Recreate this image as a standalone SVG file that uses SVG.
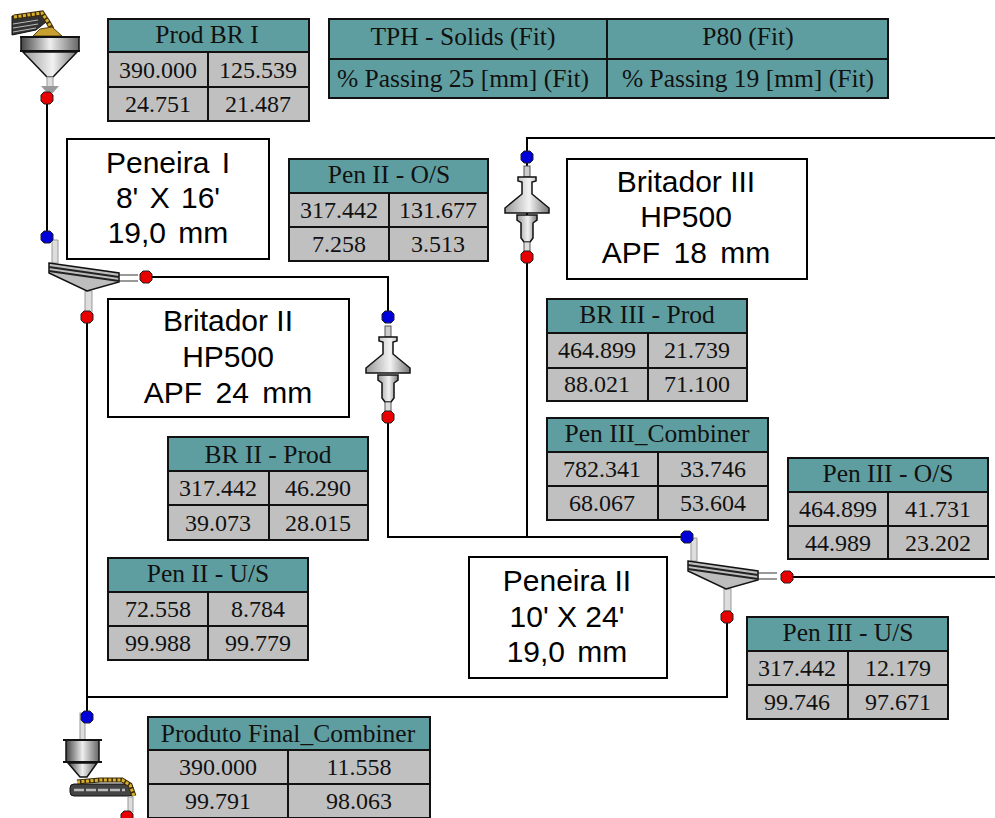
<svg xmlns="http://www.w3.org/2000/svg" width="995" height="818" viewBox="0 0 995 818">
<style>
.h{fill:#5f9ea0}.c{fill:#c0c0c0}.l{stroke:#000;stroke-width:2;fill:none}.b{fill:#fff;stroke:#000;stroke-width:2}
.g{fill:none;stroke:#111;stroke-width:2}
text{font-family:"Liberation Serif","Times New Roman",serif;font-size:24px;text-anchor:middle;fill:#111}
.t{font-size:25.5px}
.s{font-family:"Liberation Sans",Arial,sans-serif;font-size:30px;fill:#000}
</style>
<defs>
<linearGradient id="m"><stop offset="0" stop-color="#444"/><stop offset=".5" stop-color="#eee"/><stop offset="1" stop-color="#666"/></linearGradient>
<linearGradient id="k"><stop offset="0" stop-color="#999"/><stop offset=".55" stop-color="#f2f2f2"/><stop offset="1" stop-color="#777"/></linearGradient>
<g id="red"><path d="M-3-6H3L6-3V3L3 6H-3L-6 3V-3Z" fill="#e80000" stroke="#222" stroke-width="1"/></g>
<g id="blue"><path d="M-3-6H3L6-3V3L3 6H-3L-6 3V-3Z" fill="#0000d8" stroke="#222" stroke-width="1"/></g>
<g id="crusher">
<rect x="-3" y="-34" width="6" height="11" fill="#ccc" stroke="#555"/>
<path d="M-9-23H9V-19L5-18V-6L22 8V13H-22V8L-5-6V-18L-9-19Z" fill="url(#k)" stroke="#111" stroke-width="1.5"/>
<path d="M-10 15H10V20L6 23V38L3 42H-3L-6 38V23L-10 20Z" fill="url(#k)" stroke="#111" stroke-width="1.5"/>
<path d="M-3 42H3V52H-3Z" fill="#ddd" stroke="#555"/>
</g>
<g id="screen">
<path d="M3-23H9V0H3Z" fill="#ddd" stroke="#999"/>
<path d="M70 12H89M70 18H89" stroke="#999" stroke-width="2" fill="none"/>
<rect x="36" y="28" width="7" height="22" fill="#ddd" stroke="#999"/>
<path d="M0 0 70 10V19L38 28 0 10Z" fill="#bdbdbd" stroke="#111" stroke-width="1.5"/>
<path d="M0 4 70 14M0 8 70 18" stroke="#222" stroke-width="2" fill="none"/>
</g>
</defs>

<g id="connectors" class="l">
<path d="M47 100V237"/>
<path d="M146 277H388V317"/>
<path d="M388 417V537H687"/>
<path d="M87 317V717"/>
<path d="M727 617V697H87"/>
<path d="M787 577H995"/>
<path d="M527 537V138H995"/>
</g>

<g id="feeder-top">
<path d="M12 16 40 12 46 22 36 30 12 35Z" fill="#333" stroke="#111"/>
<path d="M13 24 38 20M13 28 38 24M13 32 36 28" stroke="#bbb" stroke-width="1"/>
<path d="M14 17 42 13 48 22 52 29" fill="none" stroke="#3a2a08" stroke-width="5"/>
<path d="M14 17 42 13 48 22 52 29" fill="none" stroke="#d8b030" stroke-width="3" stroke-dasharray="3 1.5"/>
<path d="M33 36 40 29 52 27 62 36Z" fill="#c8a030" stroke="#5b4010"/>
<rect x="21" y="37" width="58" height="14" fill="url(#m)" stroke="#111" stroke-width="1.5"/>
<path d="M20 37H80M20 51H80" stroke="#111" stroke-width="2"/>
<path d="M23 52H77L53 77H47Z" fill="url(#k)" stroke="#111" stroke-width="1.5"/>
<rect x="47" y="77" width="6" height="10" fill="#ddd" stroke="#999"/>
<path d="M41 86H59L50 96Z" fill="#999"/>
<use href="#red" x="47" y="98"/>
</g>

<g id="screen-1"><use href="#screen" x="49" y="263"/><use href="#blue" x="47" y="237"/><use href="#red" x="146" y="277"/><use href="#red" x="87" y="317"/></g>
<g id="screen-2"><use href="#screen" x="688" y="561"/><use href="#blue" x="687" y="537"/><use href="#red" x="787" y="577"/><use href="#red" x="727" y="617"/></g>
<g id="crusher-2"><use href="#crusher" x="388" y="360"/><use href="#blue" x="388" y="317"/><use href="#red" x="388" y="417"/></g>
<g id="crusher-3"><use href="#crusher" x="527" y="200"/><use href="#blue" x="527" y="157"/><use href="#red" x="527" y="257"/></g>

<g id="bin-bottom">
<rect x="80" y="713" width="5" height="27" fill="#ddd" stroke="#999"/>
<rect x="66" y="740" width="33" height="22" fill="url(#m)" stroke="#111" stroke-width="1.5"/>
<path d="M63 740H102M63 762H102" stroke="#111" stroke-width="2"/>
<path d="M68 763H97L87 777H80Z" fill="url(#m)" stroke="#111" stroke-width="1.5"/>
<rect x="70" y="784" width="63" height="12" rx="4" fill="#444" stroke="#111"/>
<path d="M74 790H125" stroke="#bbb" stroke-width="2.5" stroke-dasharray="10 2"/>
<path d="M77 782 100 780 122 780 130 785 134 796" fill="none" stroke="#3a2a08" stroke-width="5"/>
<path d="M77 782 100 780 122 780 130 785 134 796" fill="none" stroke="#d8b030" stroke-width="3" stroke-dasharray="3 1.5"/>
<rect x="128" y="797" width="5" height="15" fill="#ddd" stroke="#999"/>
<use href="#red" x="127" y="817"/>
<use href="#blue" x="87" y="717"/>
</g>

<g id="label-peneira-1"><rect class="b" x="67" y="139" width="202" height="120"/><text class="s" x="168" y="173" word-spacing="4">Peneira I</text><text class="s" x="168" y="208" word-spacing="3">8' X 16'</text><text class="s" x="168" y="243" word-spacing="4">19,0 mm</text></g>
<g id="label-britador-3"><rect class="b" x="567" y="159" width="240" height="120"/><text class="s" x="686" y="192">Britador III</text><text class="s" x="686" y="227">HP500</text><text class="s" x="686" y="263" word-spacing="5">APF 18 mm</text></g>
<g id="label-britador-2"><rect class="b" x="108" y="299" width="241" height="118"/><text class="s" x="228" y="331">Britador II</text><text class="s" x="228" y="367">HP500</text><text class="s" x="228" y="403" word-spacing="5">APF 24 mm</text></g>
<g id="label-peneira-2"><rect class="b" x="469" y="557" width="198" height="121"/><text class="s" x="567" y="591">Peneira II</text><text class="s" x="567" y="627">10' X 24'</text><text class="s" x="567" y="662" word-spacing="4">19,0 mm</text></g>

<g id="legend"><rect class="h" x="329" y="19" width="559" height="79"/><path class="g" d="M329 19H888V98H329ZM329 59H888M607 19V98"/>
<text class="t" x="463" y="45">TPH - Solids (Fit)</text><text class="t" x="748" y="45">P80 (Fit)</text><text class="t" x="463" y="87">% Passing 25 [mm] (Fit)</text><text class="t" x="748" y="87">% Passing 19 [mm] (Fit)</text></g>

<g id="t-prod-br-1"><rect class="h" x="108" y="19" width="201" height="33"/><rect class="c" x="108" y="52" width="201" height="69"/><path class="g" d="M108 19H309V121H108ZM108 52H309M108 87H309M208 52V121"/>
<text class="t" x="207" y="43">Prod BR I</text><text x="158" y="78">390.000</text><text x="258" y="78">125.539</text><text x="158" y="112">24.751</text><text x="258" y="112">21.487</text></g>

<g id="t-pen-2-os"><rect class="h" x="289" y="159" width="199" height="34"/><rect class="c" x="289" y="193" width="199" height="68"/><path class="g" d="M289 159H488V261H289ZM289 193H488M289 227H488M389 193V261"/>
<text class="t" x="389" y="183">Pen II - O/S</text><text x="339" y="218">317.442</text><text x="438" y="218">131.677</text><text x="339" y="252">7.258</text><text x="438" y="252">3.513</text></g>

<g id="t-br-3-prod"><rect class="h" x="547" y="299" width="200" height="34"/><rect class="c" x="547" y="333" width="200" height="68"/><path class="g" d="M547 299H747V401H547ZM547 333H747M547 368H747M648 333V401"/>
<text class="t" x="647" y="323">BR III - Prod</text><text x="597" y="358">464.899</text><text x="697" y="358">21.739</text><text x="597" y="392">88.021</text><text x="697" y="392">71.100</text></g>

<g id="t-pen-3-combiner"><rect class="h" x="547" y="418" width="221" height="34"/><rect class="c" x="547" y="452" width="221" height="68"/><path class="g" d="M547 418H768V520H547ZM547 452H768M547 486H768M658 452V520"/>
<text class="t" x="657" y="442">Pen III_Combiner</text><text x="602" y="477">782.341</text><text x="713" y="477">33.746</text><text x="602" y="511">68.067</text><text x="713" y="511">53.604</text></g>

<g id="t-pen-3-os"><rect class="h" x="788" y="458" width="200" height="34"/><rect class="c" x="788" y="492" width="200" height="67"/><path class="g" d="M788 458H988V559H788ZM788 492H988M788 526H988M888 492V559"/>
<text class="t" x="888" y="482">Pen III - O/S</text><text x="838" y="517">464.899</text><text x="938" y="517">41.731</text><text x="838" y="551">44.989</text><text x="938" y="551">23.202</text></g>

<g id="t-br-2-prod"><rect class="h" x="168" y="437" width="200" height="34"/><rect class="c" x="168" y="471" width="200" height="69"/><path class="g" d="M168 437H368V540H168ZM168 471H368M168 505H368M269 471V540"/>
<text class="t" x="268" y="463">BR II - Prod</text><text x="218" y="496">317.442</text><text x="318" y="496">46.290</text><text x="218" y="531">39.073</text><text x="318" y="531">28.015</text></g>

<g id="t-pen-2-us"><rect class="h" x="108" y="558" width="200" height="34"/><rect class="c" x="108" y="592" width="200" height="68"/><path class="g" d="M108 558H308V660H108ZM108 592H308M108 626H308M208 592V660"/>
<text class="t" x="208" y="582">Pen II - U/S</text><text x="158" y="617">72.558</text><text x="258" y="617">8.784</text><text x="158" y="651">99.988</text><text x="258" y="651">99.779</text></g>

<g id="t-pen-3-us"><rect class="h" x="747" y="617" width="201" height="34"/><rect class="c" x="747" y="651" width="201" height="68"/><path class="g" d="M747 617H948V719H747ZM747 651H948M747 685H948M848 651V719"/>
<text class="t" x="848" y="641">Pen III - U/S</text><text x="797" y="676">317.442</text><text x="898" y="676">12.179</text><text x="797" y="710">99.746</text><text x="898" y="710">97.671</text></g>

<g id="t-produto-final"><rect class="h" x="148" y="717" width="282" height="33"/><rect class="c" x="148" y="750" width="282" height="68"/><path class="g" d="M148 717H430V818H148ZM148 750H430M148 784H430M288 750V818"/>
<text class="t" x="288" y="742">Produto Final_Combiner</text><text x="218" y="775">390.000</text><text x="359" y="775">11.558</text><text x="218" y="809">99.791</text><text x="359" y="809">98.063</text></g>
</svg>
